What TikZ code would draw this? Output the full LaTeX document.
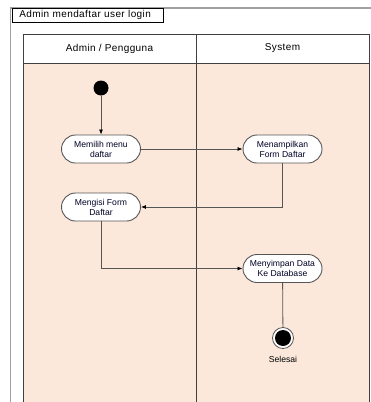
\documentclass[tikz,border=0pt]{standalone}
\usepackage{fontspec}
\setmainfont{Liberation Sans}
\usetikzlibrary{arrows.meta}
\definecolor{lanefill}{RGB}{252,232,218}
\definecolor{edgegrey}{RGB}{85,85,85}
\definecolor{framegrey}{RGB}{160,160,160}
\tikzset{
  act/.style={draw=edgegrey, line width=0.9pt, fill=white, rounded corners=14pt,
    minimum width=79pt, minimum height=28pt, inner sep=0pt, align=center,
    font=\fontsize{8.6}{10}\selectfont, text=black!85!blue},
  flow/.style={draw=edgegrey, line width=0.8pt, -{Latex[length=5pt,width=4pt,color=black]}},
  plainflow/.style={draw=edgegrey, line width=0.8pt},
  lane/.style={draw=black!75, line width=0.8pt},
  hdr/.style={font=\fontsize{10}{12}\selectfont\addfontfeature{LetterSpace=4}},
}
\begin{document}
\begin{tikzpicture}[x=1pt,y=-1pt]
\useasboundingbox (0,0) rectangle (371,402);
% outer frame
\draw[framegrey, line width=1.6pt] (10.5,410) -- (10.5,8) -- (380,8);
% swimlanes
\fill[lanefill] (23,63) rectangle (369,410);
\fill[white] (23,34) rectangle (369,63);
\draw[lane] (23,410) -- (23,34) -- (369,34) -- (369,410);
\draw[lane] (23,63) -- (369,63);
\draw[lane] (196,34) -- (196,410);
% title tab
\node[draw=black, line width=0.7pt, fill=white, anchor=north west, minimum width=151pt, minimum height=14pt,
  inner ysep=0pt, inner xsep=7pt, text width=137pt, align=left, hdr] (title) at (12,8) {Admin mendaftar user login};
% headers
\node[hdr] (h1) at (109.5,48.5) {Admin / Pengguna};
\node[hdr] (h2) at (282.5,48.5) {System};
% nodes
\node[circle, fill=black, minimum size=15pt, inner sep=0pt] (start) at (101,88) {};
\node[act] (a1) at (101,149) {Memilih menu\\daftar};
\node[act] (a2) at (282.5,149) {Menampilkan\\Form Daftar};
\node[act] (a3) at (101,207) {Mengisi Form\\Daftar};
\node[act] (a4) at (282.5,268.5) {Menyimpan Data\\Ke Database};
\node[circle, draw=edgegrey, fill=white, line width=0.8pt, minimum size=21pt, inner sep=0pt] (end) at (283,338) {};
\node[circle, fill=black, minimum size=16pt, inner sep=0pt] (endin) at (end.center) {};
\node[font=\fontsize{8.6}{10}\selectfont, anchor=north] (lbl) at (283,353) {Selesai};
% connectors
\draw[flow] (start) -- (a1);
\draw[flow] (a1) -- (a2);
\draw[flow] (a2.south) |- (a3.east);
\draw[flow] (a3.south) |- (a4.west);
\draw[plainflow] (a4) -- (end);
\end{tikzpicture}
\end{document}
